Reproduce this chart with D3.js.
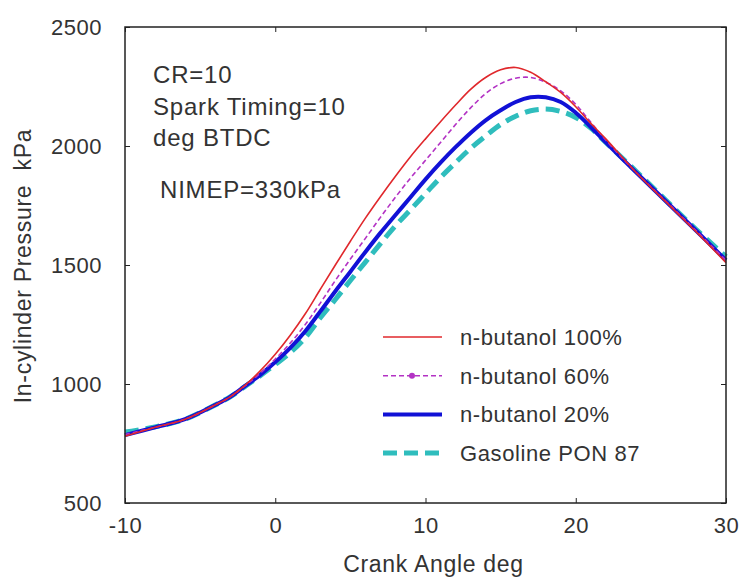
<!DOCTYPE html>
<html>
<head>
<meta charset="utf-8">
<script src="https://cdn.jsdelivr.net/npm/d3@7"></script>
<style>
  body { margin: 0; background: #fff; }
  svg text { font-family: "Liberation Sans", Arial, sans-serif; fill: #333; }
</style>
</head>
<body>
<svg width="747" height="578"></svg>
<script>
// Crank angle (deg) where the curves were read
var angles = [-10, -8, -6, -4, -3, -2, -1, 0, 1, 2, 3, 4, 5, 6, 7, 8, 9, 10, 11,
  12, 13, 14, 15, 16, 17, 18, 19, 20, 21, 22, 24, 26, 28, 30];

// In-cylinder pressure (kPa) for each fuel
var butanol100 = [780, 818, 852, 912, 946, 995, 1055, 1125, 1205, 1295, 1398, 1500, 1600, 1697, 1787, 1873, 1955, 2030, 2102,
  2172, 2238, 2288, 2320, 2330, 2310, 2270, 2225, 2165, 2095, 2030, 1890, 1765, 1640, 1510];
var butanol60 = [788, 818, 852, 912, 946, 993, 1045, 1105, 1172, 1250, 1340, 1435, 1525, 1612, 1700, 1785, 1865, 1940, 2015,
  2090, 2160, 2220, 2262, 2285, 2288, 2268, 2232, 2175, 2100, 2025, 1890, 1768, 1645, 1520];
var butanol20 = [785, 818, 852, 912, 946, 992, 1038, 1092, 1152, 1222, 1305, 1390, 1472, 1555, 1635, 1710, 1785, 1860, 1930,
  1995, 2055, 2108, 2150, 2185, 2205, 2205, 2185, 2140, 2080, 2015, 1890, 1768, 1645, 1520];
var gasoline87 = [798, 820, 852, 912, 946, 990, 1035, 1082, 1132, 1195, 1278, 1355, 1435, 1512, 1590, 1665, 1732, 1800, 1868,
  1930, 1990, 2042, 2090, 2125, 2148, 2155, 2145, 2120, 2075, 2015, 1895, 1772, 1650, 1535];

var seriesNames = ["n-butanol 100%", "n-butanol 60%", "n-butanol 20%", "Gasoline PON 87"];

// Axis ticks
var xTicks = [-10, 0, 10, 20, 30];
var yTicks = [500, 1000, 1500, 2000, 2500];

// Text printed inside the plot
var noteLines = ["CR=10", "Spark Timing=10", "deg BTDC"];
var noteImep = "NIMEP=330kPa";

var svg = d3.select("svg");
var plotLeft = 125, plotRight = 726, plotTop = 27, plotBottom = 503;

var x = d3.scaleLinear().domain([-10, 30]).range([plotLeft, plotRight]);
var y = d3.scaleLinear().domain([500, 2500]).range([plotBottom, plotTop]);

// line styles for the four fuels
var styles = [
  {color: "#e0282c", width: 1.6, dash: null},
  {color: "#b332c4", width: 1.6, dash: "5,3"},
  {color: "#1111d6", width: 4, dash: null},
  {color: "#2fbdbd", width: 5, dash: "14,7"}
];
var allSeries = [butanol100, butanol60, butanol20, gasoline87];

var line = d3.line()
  .x(function(d) { return x(d[0]); })
  .y(function(d) { return y(d[1]); })
  .curve(d3.curveCatmullRom.alpha(0.5));

// draw back to front so the thin lines sit on top
var order = [3, 2, 1, 0];
order.forEach(function(i) {
  var pts = angles.map(function(a, j) { return [a, allSeries[i][j]]; });
  svg.append("path")
    .attr("d", line(pts))
    .attr("fill", "none")
    .attr("stroke", styles[i].color)
    .attr("stroke-width", styles[i].width)
    .attr("stroke-dasharray", styles[i].dash);
});

// frame
svg.append("rect")
  .attr("x", plotLeft).attr("y", plotTop)
  .attr("width", plotRight - plotLeft).attr("height", plotBottom - plotTop)
  .attr("fill", "none")
  .attr("stroke", "#222")
  .attr("stroke-width", 1.5);

// axes with small inward ticks
var plain = function(d) { return String(d); };
svg.append("g")
  .attr("transform", "translate(0," + plotBottom + ")")
  .call(d3.axisBottom(x).tickValues(xTicks).tickSize(-5).tickPadding(14).tickFormat(plain));
svg.append("g")
  .attr("transform", "translate(" + plotLeft + ",0)")
  .call(d3.axisLeft(y).tickValues(yTicks).tickSize(-5).tickPadding(23).tickFormat(plain));
svg.append("g")
  .attr("transform", "translate(0," + plotTop + ")")
  .call(d3.axisTop(x).tickValues(xTicks).tickSize(-5).tickFormat(""));
svg.append("g")
  .attr("transform", "translate(" + plotRight + ",0)")
  .call(d3.axisRight(y).tickValues(yTicks).tickSize(-5).tickFormat(""));

svg.selectAll(".domain").remove();
svg.selectAll(".tick line").attr("stroke", "#222");
svg.selectAll(".tick text")
  .style("font-size", "22px")
  .style("font-family", "Liberation Sans, Arial, sans-serif")
  .attr("fill", "#333")
  .style("letter-spacing", "0.5px");

// axis titles
svg.append("text")
  .attr("x", (plotLeft + plotRight) / 2 + 8)
  .attr("y", 572)
  .attr("text-anchor", "middle")
  .style("font-size", "23px")
  .style("letter-spacing", "0.7px")
  .text("Crank Angle deg");

svg.append("text")
  .attr("transform", "translate(31," + ((plotTop + plotBottom) / 2 + 1) + ") rotate(-90)")
  .attr("text-anchor", "middle")
  .style("font-size", "23px")
  .style("letter-spacing", "0.7px")
  .style("white-space", "pre")
  .text("In-cylinder Pressure  kPa");

// condition notes
svg.selectAll(".note")
  .data(noteLines)
  .enter()
  .append("text")
    .attr("class", "note")
    .attr("x", 153)
    .attr("y", function(d, i) { return 83 + i * 31.5; })
    .style("font-size", "24px")
    .style("letter-spacing", "0.8px")
    .text(function(d) { return d; });

svg.append("text")
  .attr("x", 160)
  .attr("y", 198)
  .style("font-size", "24px")
  .style("letter-spacing", "0.8px")
  .text(noteImep);

// legend
var legend = svg.append("g");
seriesNames.forEach(function(name, i) {
  var ly = 337 + i * 38.7;
  legend.append("line")
    .attr("x1", 383).attr("x2", 442)
    .attr("y1", ly).attr("y2", ly)
    .attr("stroke", styles[i].color)
    .attr("stroke-width", styles[i].width)
    .attr("stroke-dasharray", styles[i].dash);
  if (i == 1) {
    legend.append("circle")
      .attr("cx", 412).attr("cy", ly).attr("r", 3)
      .attr("fill", styles[i].color);
  }
  legend.append("text")
    .attr("x", 460)
    .attr("y", ly + 8)
    .style("font-size", "22px")
    .style("letter-spacing", "0.6px")
    .text(name);
});
</script>
</body>
</html>
